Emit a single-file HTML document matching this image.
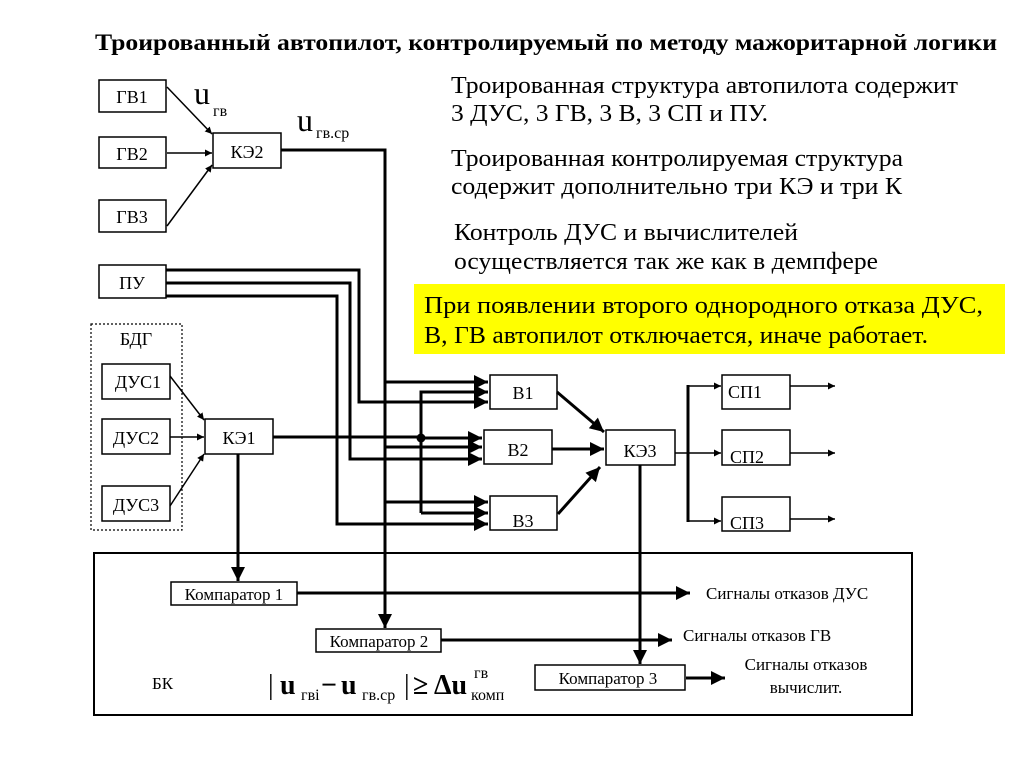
<!DOCTYPE html>
<html><head><meta charset="utf-8"><style>
html,body{margin:0;padding:0;background:#fff;}
svg{display:block;font-family:"Liberation Serif",serif;}
</style></head><body>
<svg width="1024" height="767" viewBox="0 0 1024 767" xmlns="http://www.w3.org/2000/svg">
<defs>
<marker id="a" viewBox="0 0 10 10" refX="10" refY="5" markerWidth="7" markerHeight="7" markerUnits="userSpaceOnUse" orient="auto"><path d="M0,0L10,5L0,10z" fill="#000"/></marker>
<marker id="b" viewBox="0 0 10 10" refX="10" refY="5" markerWidth="16" markerHeight="14" markerUnits="userSpaceOnUse" orient="auto"><path d="M0,0L10,5L0,10z" fill="#000"/></marker>
</defs>
<rect width="1024" height="767" fill="#fff"/>
<text x="95" y="50" font-size="23" font-weight="bold" textLength="902" lengthAdjust="spacingAndGlyphs">Троированный автопилот, контролируемый по методу мажоритарной логики</text>

<g font-size="24">
<text x="451" y="93" textLength="507" lengthAdjust="spacingAndGlyphs">Троированная структура автопилота содержит</text>
<text x="451" y="121" textLength="317" lengthAdjust="spacingAndGlyphs">3 ДУС, 3 ГВ, 3 В, 3 СП и ПУ.</text>
<text x="451" y="166" textLength="452" lengthAdjust="spacingAndGlyphs">Троированная контролируемая структура</text>
<text x="451" y="194" textLength="451" lengthAdjust="spacingAndGlyphs">содержит дополнительно три КЭ и три К</text>
<text x="454" y="240" textLength="344" lengthAdjust="spacingAndGlyphs">Контроль ДУС и вычислителей</text>
<text x="454" y="269" textLength="424" lengthAdjust="spacingAndGlyphs">осуществляется так же как в демпфере</text>
</g>
<rect x="414" y="284" width="591" height="70" fill="#ffff00"/>
<g font-size="24">
<text x="424" y="313" textLength="559" lengthAdjust="spacingAndGlyphs">При появлении второго однородного отказа ДУС,</text>
<text x="424" y="343" textLength="504" lengthAdjust="spacingAndGlyphs">В, ГВ автопилот отключается, иначе работает.</text>
</g>

<g fill="none" stroke="#000" stroke-width="1.5">
<rect x="99" y="80" width="67" height="32"/>
<rect x="99" y="137" width="67" height="31"/>
<rect x="99" y="200" width="67" height="32"/>
<rect x="213" y="133" width="68" height="35"/>
<rect x="99" y="265" width="67" height="33"/>
<rect x="91" y="324" width="91" height="206" stroke-dasharray="2,2" stroke-width="1.2"/>
<rect x="102" y="364" width="68" height="35"/>
<rect x="102" y="419" width="68" height="35"/>
<rect x="102" y="486" width="68" height="35"/>
<rect x="205" y="419" width="68" height="35"/>
<rect x="490" y="375" width="67" height="34"/>
<rect x="484" y="430" width="68" height="34"/>
<rect x="490" y="496" width="67" height="34"/>
<rect x="606" y="430" width="69" height="35"/>
<rect x="722" y="375" width="68" height="34"/>
<rect x="722" y="430" width="68" height="35"/>
<rect x="722" y="497" width="68" height="34"/>
<rect x="94" y="553" width="818" height="162" stroke-width="2"/>
<rect x="171" y="582" width="126" height="23"/>
<rect x="316" y="629" width="125" height="23"/>
<rect x="535" y="665" width="150" height="25"/>
</g>

<g font-size="18" text-anchor="middle">
<text x="132" y="103">ГВ1</text>
<text x="132" y="160">ГВ2</text>
<text x="132" y="223">ГВ3</text>
<text x="247" y="158">КЭ2</text>
<text x="132" y="289">ПУ</text>
<text x="136" y="345">БДГ</text>
<text x="138" y="388">ДУС1</text>
<text x="136" y="444">ДУС2</text>
<text x="136" y="511">ДУС3</text>
<text x="239" y="444">КЭ1</text>
<text x="523" y="399">В1</text>
<text x="518" y="456">В2</text>
<text x="523" y="527">В3</text>
<text x="640" y="457">КЭ3</text>
<text x="745" y="398">СП1</text>
<text x="747" y="463">СП2</text>
<text x="747" y="529">СП3</text>
<text x="234" y="600" font-size="17">Компаратор 1</text>
<text x="379" y="647" font-size="17">Компаратор 2</text>
<text x="608" y="684" font-size="17">Компаратор 3</text>
</g>
<g font-size="17">
<text x="706" y="599">Сигналы отказов ДУС</text>
<text x="683" y="641">Сигналы отказов ГВ</text>
<text x="806" y="670" text-anchor="middle">Сигналы отказов</text>
<text x="806" y="693" text-anchor="middle">вычислит.</text>
<text x="152" y="689">БК</text>
</g>

<text x="194" y="104" font-size="32">u</text>
<text x="213" y="116" font-size="16">гв</text>
<text x="297" y="131" font-size="32">u</text>
<text x="316" y="138" font-size="16">гв.ср</text>

<g font-size="28" font-weight="bold">
<text x="268" y="694" font-weight="normal">|</text>
<text x="280" y="694">u</text>
<text x="301" y="700" font-size="16" font-weight="normal">гвi</text>
<text x="321" y="694">−</text>
<text x="341" y="694">u</text>
<text x="362" y="700" font-size="16" font-weight="normal">гв.ср</text>
<text x="404" y="694" font-weight="normal">|</text>
<text x="413" y="694">≥</text>
<text x="434" y="694">Δu</text>
<text x="474" y="678" font-size="16" font-weight="normal">гв</text>
<text x="471" y="700" font-size="16" font-weight="normal">комп</text>
</g>

<g stroke="#000" stroke-width="1.5" fill="none" marker-end="url(#a)">
<line x1="167" y1="87" x2="212" y2="134"/>
<line x1="167" y1="153" x2="212" y2="153"/>
<line x1="167" y1="226" x2="212" y2="165"/>
<line x1="170" y1="376" x2="204" y2="420"/>
<line x1="170" y1="437" x2="204" y2="437"/>
<line x1="170" y1="506" x2="204" y2="454"/>
<line x1="688" y1="386" x2="721" y2="386"/>
<line x1="688" y1="453" x2="721" y2="453"/>
<line x1="688" y1="521" x2="721" y2="521"/>
<line x1="790" y1="386" x2="835" y2="386"/>
<line x1="790" y1="453" x2="835" y2="453"/>
<line x1="790" y1="519" x2="835" y2="519"/>
</g>
<g stroke="#000" stroke-width="1.5" fill="none">
<line x1="675" y1="453" x2="688" y2="453"/>
</g>

<g stroke="#000" stroke-width="3" fill="none">
<polyline points="281,150 385,150 385,628" marker-end="url(#b)"/>
<polyline points="166,270 359,270 359,402 488,402" marker-end="url(#b)"/>
<polyline points="166,283 350,283 350,459 482,459" marker-end="url(#b)"/>
<polyline points="166,296 337,296 337,524 488,524" marker-end="url(#b)"/>
<line x1="385" y1="382" x2="488" y2="382" marker-end="url(#b)"/>
<line x1="385" y1="447" x2="482" y2="447" marker-end="url(#b)"/>
<line x1="385" y1="502" x2="488" y2="502" marker-end="url(#b)"/>
<line x1="273" y1="437" x2="421" y2="437"/>
<line x1="421" y1="438" x2="482" y2="438" marker-end="url(#b)"/>
<polyline points="421,513 421,392 488,392" marker-end="url(#b)"/>
<line x1="421" y1="513" x2="488" y2="513" marker-end="url(#b)"/>
<line x1="557" y1="392" x2="604" y2="432" marker-end="url(#b)"/>
<line x1="552" y1="449" x2="604" y2="449" marker-end="url(#b)"/>
<line x1="558" y1="514" x2="600" y2="467" marker-end="url(#b)"/>
<line x1="688" y1="385" x2="688" y2="522"/>
<line x1="238" y1="454" x2="238" y2="581" marker-end="url(#b)"/>
<line x1="640" y1="465" x2="640" y2="664" marker-end="url(#b)"/>
<line x1="297" y1="593" x2="690" y2="593" marker-end="url(#b)"/>
<line x1="441" y1="640" x2="672" y2="640" marker-end="url(#b)"/>
<line x1="686" y1="678" x2="725" y2="678" marker-end="url(#b)"/>
</g>
<circle cx="421" cy="438" r="4.5" fill="#000"/>
</svg>
</body></html>
